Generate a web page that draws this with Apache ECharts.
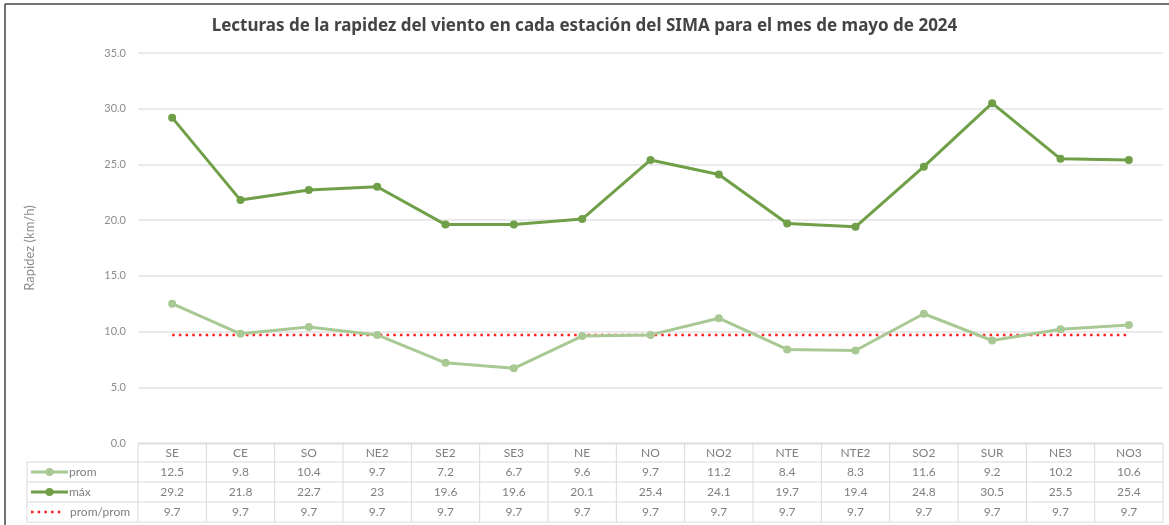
<!DOCTYPE html>
<html>
<head>
<meta charset="utf-8">
<script src="https://cdn.jsdelivr.net/npm/echarts@6/dist/echarts.min.js"></script>
<style>
  html, body { margin: 0; padding: 0; background: #fff; }
  #main { width: 1169px; height: 525px; }
</style>
</head>
<body>
<div id="main"></div>
<script>
// estaciones
var stations = ['SE', 'CE', 'SO', 'NE2', 'SE2', 'SE3', 'NE', 'NO', 'NO2', 'NTE', 'NTE2', 'SO2', 'SUR', 'NE3', 'NO3'];
var prom = [12.5, 9.8, 10.4, 9.7, 7.2, 6.7, 9.6, 9.7, 11.2, 8.4, 8.3, 11.6, 9.2, 10.2, 10.6];
var maxima = [29.2, 21.8, 22.7, 23, 19.6, 19.6, 20.1, 25.4, 24.1, 19.7, 19.4, 24.8, 30.5, 25.5, 25.4];
var promProm = [9.7, 9.7, 9.7, 9.7, 9.7, 9.7, 9.7, 9.7, 9.7, 9.7, 9.7, 9.7, 9.7, 9.7, 9.7];
var seriesNames = ['prom', 'máx', 'prom/prom'];

var colorProm = '#a9c994';
var colorMax = '#6f9f47';
var colorRed = '#ff1f1f';
var textGrey = '#7f7f7f';
var borderGrey = '#d9d9d9';
var font = 'Lato, "Noto Sans", sans-serif';

var chart = echarts.init(document.getElementById('main'));

chart.setOption({
  animation: false,
  title: {
    text: 'Lecturas de la rapidez del viento en cada estación del SIMA para el mes de mayo de 2024',
    left: 'center',
    top: 13,
    textStyle: { fontFamily: '"Noto Sans", sans-serif', fontWeight: 'bold', fontSize: 17, color: '#444' }
  },
  grid: { left: 138, right: 6, top: 53, bottom: 82 },
  xAxis: {
    type: 'category',
    data: stations,
    boundaryGap: true,
    axisLine: { show: false },
    axisTick: { show: false },
    axisLabel: { show: false }
  },
  yAxis: {
    type: 'value',
    min: 0,
    max: 35,
    interval: 5,
    name: 'Rapidez (km/h)',
    nameLocation: 'middle',
    nameGap: 102,
    nameTextStyle: { color: '#8c8c8c', fontSize: 13, fontFamily: font },
    axisLine: { show: false },
    axisTick: { show: false },
    axisLabel: {
      color: '#8c8c8c', fontSize: 11, fontFamily: font, margin: 12,
      formatter: function (v) { return v.toFixed(1); }
    },
    splitLine: { lineStyle: { color: '#e3e3e3', width: 1.5 } }
  },
  series: [
    {
      name: seriesNames[0], type: 'line', data: prom,
      symbol: 'circle', symbolSize: 8,
      lineStyle: { color: colorProm, width: 3 },
      itemStyle: { color: colorProm }
    },
    {
      name: seriesNames[1], type: 'line', data: maxima,
      symbol: 'circle', symbolSize: 8,
      lineStyle: { color: colorMax, width: 3 },
      itemStyle: { color: colorMax }
    },
    {
      name: seriesNames[2], type: 'line', data: promProm,
      symbol: 'none',
      lineStyle: { color: colorRed, width: 2.5, type: [2.5, 4.2], cap: 'butt' },
      z: 1
    }
  ]
});

// tabla de datos bajo el eje
function drawTable() {
  var x0 = chart.convertToPixel({ xAxisIndex: 0 }, 0);
  var x1 = chart.convertToPixel({ xAxisIndex: 0 }, 1);
  var colW = x1 - x0;
  var left = x0 - colW / 2;
  var right = left + colW * stations.length;
  var top = 444;
  var rowH = [18, 20, 20, 20];
  var legendLeft = 27;
  var rows = [prom, maxima, promProm];
  var els = [];
  var lineStyle = { stroke: borderGrey, lineWidth: 1 };

  var ys = [top];
  rowH.forEach(function (h) { ys.push(ys[ys.length - 1] + h); });

  // horizontales
  els.push({ type: 'line', shape: { x1: left, y1: ys[0], x2: right, y2: ys[0] }, style: lineStyle });
  for (var r = 1; r < ys.length; r++) {
    els.push({ type: 'line', shape: { x1: legendLeft, y1: ys[r], x2: right, y2: ys[r] }, style: lineStyle });
  }
  // verticales
  els.push({ type: 'line', shape: { x1: legendLeft, y1: ys[1], x2: legendLeft, y2: ys[4] }, style: lineStyle });
  for (var c = 0; c <= stations.length; c++) {
    var x = left + c * colW;
    els.push({ type: 'line', shape: { x1: x, y1: ys[0], x2: x, y2: ys[4] }, style: lineStyle });
  }
  // encabezados
  stations.forEach(function (s, i) {
    els.push({
      type: 'text', x: left + (i + 0.5) * colW, y: (ys[0] + ys[1]) / 2,
      style: { text: s, fill: textGrey, font: '12px ' + font, align: 'center', verticalAlign: 'middle' }
    });
  });
  // valores
  rows.forEach(function (vals, r) {
    var cy = (ys[r + 1] + ys[r + 2]) / 2;
    vals.forEach(function (v, i) {
      els.push({
        type: 'text', x: left + (i + 0.5) * colW, y: cy,
        style: { text: String(v), fill: textGrey, font: '12px ' + font, align: 'center', verticalAlign: 'middle' }
      });
    });
    // leyenda
    var kx = 31;
    if (r < 2) {
      var col = r === 0 ? colorProm : colorMax;
      els.push({ type: 'line', shape: { x1: kx, y1: cy, x2: kx + 37, y2: cy }, style: { stroke: col, lineWidth: 3 } });
      els.push({ type: 'circle', shape: { cx: kx + 18.5, cy: cy, r: 4 }, style: { fill: col } });
      els.push({
        type: 'text', x: kx + 38, y: cy,
        style: { text: seriesNames[r], fill: textGrey, font: '12px ' + font, align: 'left', verticalAlign: 'middle' }
      });
    } else {
      els.push({ type: 'line', shape: { x1: kx, y1: cy, x2: kx + 32, y2: cy }, style: { stroke: colorRed, lineWidth: 2.5, lineDash: [2.5, 4.2] } });
      els.push({
        type: 'text', x: kx + 39, y: cy,
        style: { text: seriesNames[r], fill: textGrey, font: '12px ' + font, align: 'left', verticalAlign: 'middle' }
      });
    }
  });
  // marco exterior
  els.push({ type: 'line', shape: { x1: 5, y1: 4, x2: 1169, y2: 4 }, style: { stroke: '#444', lineWidth: 1.5 } });
  els.push({ type: 'line', shape: { x1: 5, y1: 4, x2: 5, y2: 525 }, style: { stroke: '#444', lineWidth: 1.5 } });

  chart.setOption({ graphic: { elements: els } });
}
drawTable();
</script>
</body>
</html>
